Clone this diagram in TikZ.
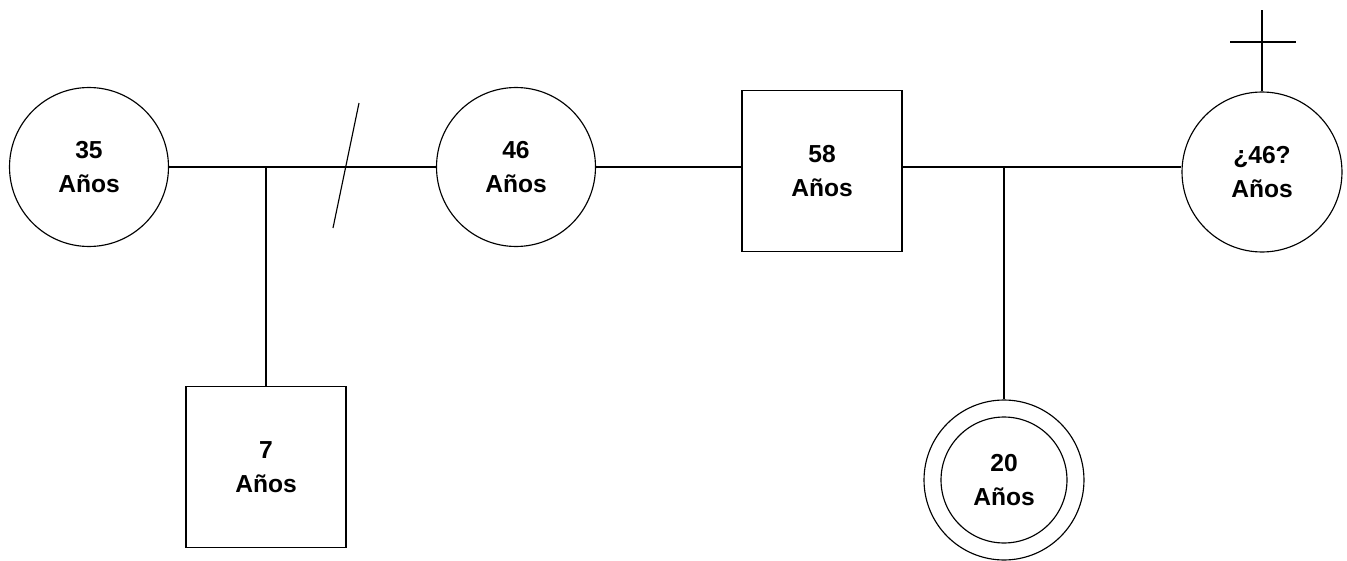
\documentclass[tikz,border=0pt]{standalone}
\usepackage{fontspec}
\setmainfont{Liberation Sans}
\usepackage{tikz}
\usetikzlibrary{calc}

\begin{document}
\begin{tikzpicture}[x=0.02cm,y=-0.02cm,line width=0.65pt,
  mujer/.style={draw,circle,minimum size=3.18cm,inner sep=0pt,align=center,font=\fontsize{14}{19}\selectfont\bfseries},
  hombre/.style={draw,rectangle,minimum width=3.2cm,minimum height=3.22cm,inner sep=0pt,align=center,font=\fontsize{14}{19}\selectfont\bfseries}]
\useasboundingbox (0,0) rectangle (1347,561);
\node[mujer] (m35) at (89,167) {35\\Años};
\node[mujer] (m46) at (516,167) {46\\Años};
\node[hombre] (h58) at (822,171) {58\\Años};
\node[mujer,minimum size=3.2cm] (mx) at (1262,172) {¿46?\\Años};
\node[hombre] (h7) at (266,467) {7\\Años};
\node[mujer,minimum size=3.2cm] (m20) at (1004,480) {20\\Años};
\draw (m20.center) circle[radius=1.26cm];
% uniones
\draw (m35.east) -- (m46.west);
\draw (m46.east) -- (h58.west |- m46.east);
\draw (h58.east |- m46.east) -- (mx.west |- m46.east);
% hijos
\draw (h7.north |- m35.east) -- (h7.north);
\draw (m20.north |- m46.east) -- (m20.north);
% separacion
\coordinate (sep) at (346,166);
\draw (sep) ++(-13,62) -- ++(26,-125);
% fallecida
\coordinate (cruz) at (1262,42);
\draw (mx.north) -- (1262,10);
\draw ($(cruz)+(-32,0)$) -- ($(cruz)+(34,0)$);
\end{tikzpicture}
\end{document}
